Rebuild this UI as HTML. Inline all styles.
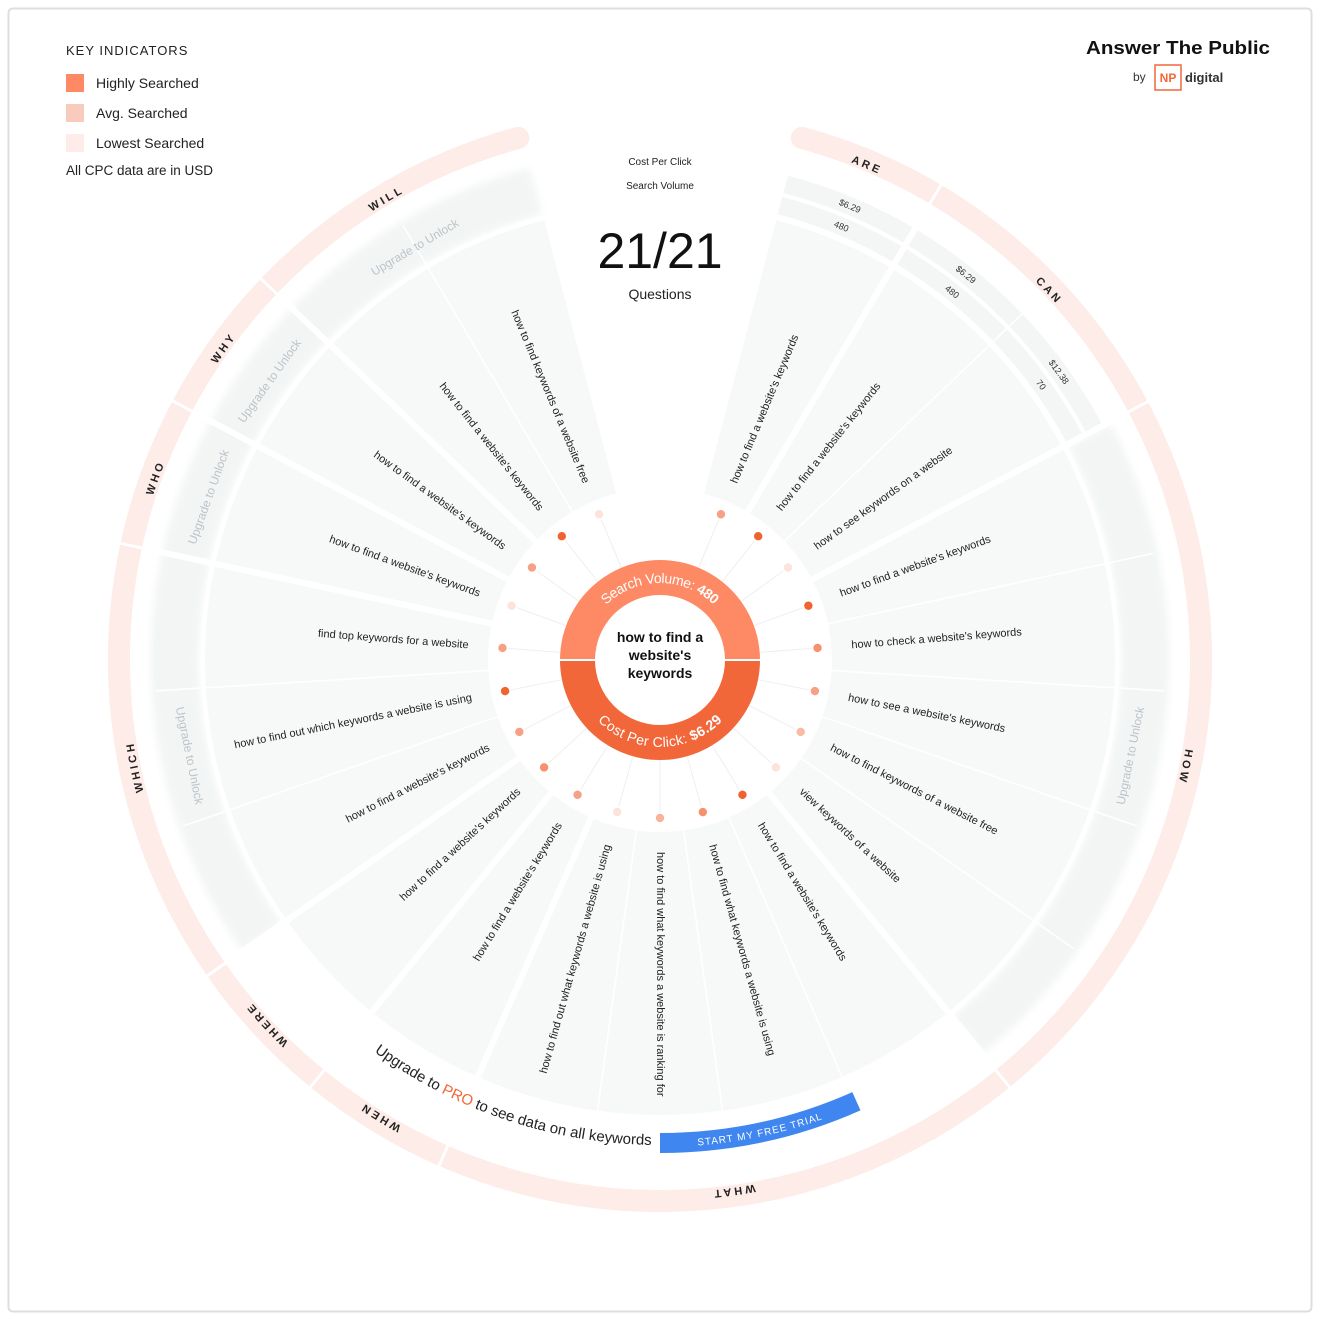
<!DOCTYPE html>
<html><head><meta charset="utf-8"><style>
html,body{margin:0;padding:0;background:#fff;}
svg{display:block;font-family:"Liberation Sans",sans-serif;}
</style></head><body>
<svg width="1320" height="1320" viewBox="0 0 1320 1320" xmlns="http://www.w3.org/2000/svg">
<defs>
<filter id="bl" x="-20%" y="-20%" width="140%" height="140%"><feGaussianBlur stdDeviation="4"/></filter>
<path id="ringp" d="M660,124 A536,536 0 0 1 660,1196 A536,536 0 0 1 660,124"/>
<path id="sv" d="M578,660 A82,82 0 0 1 742,660"/>
<path id="cpc" d="M578,660 A82,82 0 0 0 742,660"/>
<path id="pro" d="M348.2,1031.5 A485,485 0 0 0 651.5,1144.9"/>
<path id="bluet" d="M660,1147 A487,487 0 0 0 858.1,1104.9"/>
</defs>
<rect x="8.5" y="8.5" width="1303" height="1303" rx="4" fill="#fff" stroke="#dedede" stroke-width="2"/>

<!-- outer ring -->
<circle cx="660" cy="660" r="541" fill="none" stroke="#fdece7" stroke-width="22" stroke-linecap="round" stroke-dasharray="3112 4000" transform="rotate(-74.8 660 660)"/>
<g stroke="#fff" stroke-width="3">
<line x1="1189" y1="660" x2="1215" y2="660" transform="rotate(-59.4 660 660)"/>
<line x1="1189" y1="660" x2="1215" y2="660" transform="rotate(-27.9 660 660)"/>
<line x1="1189" y1="660" x2="1215" y2="660" transform="rotate(50.7 660 660)"/>
<line x1="1189" y1="660" x2="1215" y2="660" transform="rotate(113.6 660 660)"/>
<line x1="1189" y1="660" x2="1215" y2="660" transform="rotate(129.3 660 660)"/>
<line x1="1189" y1="660" x2="1215" y2="660" transform="rotate(145.1 660 660)"/>
<line x1="1189" y1="660" x2="1215" y2="660" transform="rotate(192.2 660 660)"/>
<line x1="1189" y1="660" x2="1215" y2="660" transform="rotate(208 660 660)"/>
<line x1="1189" y1="660" x2="1215" y2="660" transform="rotate(223.7 660 660)"/>
</g>
<g font-size="11" font-weight="bold" letter-spacing="3" fill="#222" text-anchor="middle" dominant-baseline="central">
<text><textPath href="#ringp" startOffset="212.4">ARE</textPath></text>
<text><textPath href="#ringp" startOffset="435">CAN</textPath></text>
<text><textPath href="#ringp" startOffset="949.5">HOW</textPath></text>
<text><textPath href="#ringp" startOffset="1610">WHAT</textPath></text>
<text><textPath href="#ringp" startOffset="1978">WHEN</textPath></text>
<text><textPath href="#ringp" startOffset="2125">WHERE</textPath></text>
<text><textPath href="#ringp" startOffset="2418">WHICH</textPath></text>
<text><textPath href="#ringp" startOffset="2711.5">WHO</textPath></text>
<text><textPath href="#ringp" startOffset="2858.4">WHY</textPath></text>
<text><textPath href="#ringp" startOffset="3080.6">WILL</textPath></text>
</g>

<!-- locked bands -->
<g filter="url(#bl)">
<circle cx="660" cy="660" r="485" fill="none" stroke="#f3f5f5" stroke-width="48" stroke-dasharray="662 4000" transform="rotate(-27.6 660 660)"/>
<circle cx="660" cy="660" r="485" fill="none" stroke="#f3f5f5" stroke-width="48" stroke-dasharray="931 4000" transform="rotate(145.2 660 660)"/>
</g>
<!-- CPC / volume tracks -->
<circle cx="660" cy="660" r="470" fill="none" stroke="#f4f6f6" stroke-width="18" stroke-dasharray="390.5 4000" transform="rotate(-75.2 660 660)"/>
<circle cx="660" cy="660" r="492" fill="none" stroke="#f4f6f6" stroke-width="18" stroke-dasharray="408.7 4000" transform="rotate(-75.2 660 660)"/>

<!-- main wedges -->
<circle cx="660" cy="660" r="313.5" fill="none" stroke="#f7f9f8" stroke-width="283" stroke-dasharray="1807.9 4000" transform="rotate(-75.2 660 660)"/>

<!-- dividers -->
<g stroke="#fff" stroke-width="1.5">
<line x1="830" y1="660" x2="1165" y2="660" transform="rotate(-43.7 660 660)"/>
<line x1="830" y1="660" x2="1165" y2="660" transform="rotate(-12.2 660 660)"/>
<line x1="830" y1="660" x2="1165" y2="660" transform="rotate(3.5 660 660)"/>
<line x1="830" y1="660" x2="1165" y2="660" transform="rotate(19.2 660 660)"/>
<line x1="830" y1="660" x2="1165" y2="660" transform="rotate(34.9 660 660)"/>
<line x1="830" y1="660" x2="1165" y2="660" transform="rotate(66.4 660 660)"/>
<line x1="830" y1="660" x2="1165" y2="660" transform="rotate(82.1 660 660)"/>
<line x1="830" y1="660" x2="1165" y2="660" transform="rotate(97.9 660 660)"/>
<line x1="830" y1="660" x2="1165" y2="660" transform="rotate(160.8 660 660)"/>
<line x1="830" y1="660" x2="1165" y2="660" transform="rotate(176.5 660 660)"/>
<line x1="830" y1="660" x2="1165" y2="660" transform="rotate(239.4 660 660)"/>
</g>
<g stroke="#fff" stroke-width="6">
<line x1="830" y1="660" x2="1175" y2="660" transform="rotate(-59.4 660 660)"/>
<line x1="830" y1="660" x2="1175" y2="660" transform="rotate(-27.9 660 660)"/>
<line x1="830" y1="660" x2="1175" y2="660" transform="rotate(50.7 660 660)"/>
<line x1="830" y1="660" x2="1175" y2="660" transform="rotate(113.6 660 660)"/>
<line x1="830" y1="660" x2="1175" y2="660" transform="rotate(129.3 660 660)"/>
<line x1="830" y1="660" x2="1175" y2="660" transform="rotate(145.1 660 660)"/>
<line x1="830" y1="660" x2="1175" y2="660" transform="rotate(192.2 660 660)"/>
<line x1="830" y1="660" x2="1175" y2="660" transform="rotate(208 660 660)"/>
<line x1="830" y1="660" x2="1175" y2="660" transform="rotate(223.7 660 660)"/>
</g>
<circle cx="660" cy="660" r="457.5" fill="none" stroke="#fff" stroke-width="4"/>
<circle cx="660" cy="660" r="481" fill="none" stroke="#fff" stroke-width="3" stroke-dasharray="390 4000" transform="rotate(-75.2 660 660)"/>

<!-- CPC labels -->
<g font-size="9" fill="#333" text-anchor="middle" dominant-baseline="central">
<text x="660" y="168" transform="rotate(22.7 660 660)">$6.29</text>
<text x="660" y="190" transform="rotate(22.7 660 660)">480</text>
<text x="660" y="168" transform="rotate(38.43 660 660)">$6.29</text>
<text x="660" y="190" transform="rotate(38.43 660 660)">480</text>
<text x="660" y="168" transform="rotate(54.16 660 660)">$12.38</text>
<text x="660" y="190" transform="rotate(54.16 660 660)">70</text>
</g>

<!-- Upgrade to Unlock -->
<g font-size="12" fill="#bcc4c9" text-anchor="middle" dominant-baseline="central">
<text x="660" y="1140" transform="rotate(-78.5 660 660)">Upgrade to Unlock</text>
<text x="660" y="1140" transform="rotate(78.5 660 660)">Upgrade to Unlock</text>
<text x="660" y="180" transform="rotate(289.85 660 660)">Upgrade to Unlock</text>
<text x="660" y="180" transform="rotate(305.55 660 660)">Upgrade to Unlock</text>
<text x="660" y="180" transform="rotate(329.3 660 660)">Upgrade to Unlock</text>
</g>

<!-- spokes & dots -->
<g stroke="#efefef" stroke-width="1">
<line x1="760" y1="660" x2="812" y2="660" transform="rotate(-67.3 660 660)"/>
<line x1="760" y1="660" x2="812" y2="660" transform="rotate(-51.57 660 660)"/>
<line x1="760" y1="660" x2="812" y2="660" transform="rotate(-35.84 660 660)"/>
<line x1="760" y1="660" x2="812" y2="660" transform="rotate(-20.11 660 660)"/>
<line x1="760" y1="660" x2="812" y2="660" transform="rotate(-4.38 660 660)"/>
<line x1="760" y1="660" x2="812" y2="660" transform="rotate(11.35 660 660)"/>
<line x1="760" y1="660" x2="812" y2="660" transform="rotate(27.08 660 660)"/>
<line x1="760" y1="660" x2="812" y2="660" transform="rotate(42.81 660 660)"/>
<line x1="760" y1="660" x2="812" y2="660" transform="rotate(58.54 660 660)"/>
<line x1="760" y1="660" x2="812" y2="660" transform="rotate(74.27 660 660)"/>
<line x1="760" y1="660" x2="812" y2="660" transform="rotate(90 660 660)"/>
<line x1="760" y1="660" x2="812" y2="660" transform="rotate(105.73 660 660)"/>
<line x1="760" y1="660" x2="812" y2="660" transform="rotate(121.46 660 660)"/>
<line x1="760" y1="660" x2="812" y2="660" transform="rotate(137.19 660 660)"/>
<line x1="760" y1="660" x2="812" y2="660" transform="rotate(152.92 660 660)"/>
<line x1="760" y1="660" x2="812" y2="660" transform="rotate(168.65 660 660)"/>
<line x1="760" y1="660" x2="812" y2="660" transform="rotate(184.38 660 660)"/>
<line x1="760" y1="660" x2="812" y2="660" transform="rotate(200.11 660 660)"/>
<line x1="760" y1="660" x2="812" y2="660" transform="rotate(215.84 660 660)"/>
<line x1="760" y1="660" x2="812" y2="660" transform="rotate(231.57 660 660)"/>
<line x1="760" y1="660" x2="812" y2="660" transform="rotate(247.3 660 660)"/>
</g>
<g>
<circle cx="818" cy="660" r="4.2" fill="#f6a185" transform="rotate(-67.3 660 660)"/>
<circle cx="818" cy="660" r="4.2" fill="#f0632f" transform="rotate(-51.57 660 660)"/>
<circle cx="818" cy="660" r="4.2" fill="#fde3d9" transform="rotate(-35.84 660 660)"/>
<circle cx="818" cy="660" r="4.2" fill="#f0632f" transform="rotate(-20.11 660 660)"/>
<circle cx="818" cy="660" r="4.2" fill="#f7906e" transform="rotate(-4.38 660 660)"/>
<circle cx="818" cy="660" r="4.2" fill="#f6a185" transform="rotate(11.35 660 660)"/>
<circle cx="818" cy="660" r="4.2" fill="#f9bba6" transform="rotate(27.08 660 660)"/>
<circle cx="818" cy="660" r="4.2" fill="#fde3d9" transform="rotate(42.81 660 660)"/>
<circle cx="818" cy="660" r="4.2" fill="#f0632f" transform="rotate(58.54 660 660)"/>
<circle cx="818" cy="660" r="4.2" fill="#f7906e" transform="rotate(74.27 660 660)"/>
<circle cx="818" cy="660" r="4.2" fill="#f9b39b" transform="rotate(90 660 660)"/>
<circle cx="818" cy="660" r="4.2" fill="#fde3d9" transform="rotate(105.73 660 660)"/>
<circle cx="818" cy="660" r="4.2" fill="#f6a185" transform="rotate(121.46 660 660)"/>
<circle cx="818" cy="660" r="4.2" fill="#f7906e" transform="rotate(137.19 660 660)"/>
<circle cx="818" cy="660" r="4.2" fill="#f6a185" transform="rotate(152.92 660 660)"/>
<circle cx="818" cy="660" r="4.2" fill="#f0632f" transform="rotate(168.65 660 660)"/>
<circle cx="818" cy="660" r="4.2" fill="#f6a185" transform="rotate(184.38 660 660)"/>
<circle cx="818" cy="660" r="4.2" fill="#fde3d9" transform="rotate(200.11 660 660)"/>
<circle cx="818" cy="660" r="4.2" fill="#f6a185" transform="rotate(215.84 660 660)"/>
<circle cx="818" cy="660" r="4.2" fill="#f0632f" transform="rotate(231.57 660 660)"/>
<circle cx="818" cy="660" r="4.2" fill="#fde3d9" transform="rotate(247.3 660 660)"/>
</g>

<!-- question labels -->
<g font-size="11" fill="#222" dominant-baseline="central">
<text x="852" y="660" transform="rotate(-67.3 660 660)">how to find a website's keywords</text>
<text x="852" y="660" transform="rotate(-51.57 660 660)">how to find a website's keywords</text>
<text x="852" y="660" transform="rotate(-35.84 660 660)">how to see keywords on a website</text>
<text x="852" y="660" transform="rotate(-20.11 660 660)">how to find a website's keywords</text>
<text x="852" y="660" transform="rotate(-4.38 660 660)">how to check a website's keywords</text>
<text x="852" y="660" transform="rotate(11.35 660 660)">how to see a website's keywords</text>
<text x="852" y="660" transform="rotate(27.08 660 660)">how to find keywords of a website free</text>
<text x="852" y="660" transform="rotate(42.81 660 660)">view keywords of a website</text>
<text x="852" y="660" transform="rotate(58.54 660 660)">how to find a website's keywords</text>
<text x="852" y="660" transform="rotate(74.27 660 660)">how to find what keywords a website is using</text>
<text x="852" y="660" transform="rotate(90 660 660)">how to find what keywords a website is ranking for</text>
</g>
<g font-size="11" fill="#222" dominant-baseline="central" text-anchor="end">
<text x="468" y="660" transform="rotate(-74.27 660 660)">how to find out what keywords a website is using</text>
<text x="468" y="660" transform="rotate(-58.54 660 660)">how to find a website's keywords</text>
<text x="468" y="660" transform="rotate(-42.81 660 660)">how to find a website's keywords</text>
<text x="468" y="660" transform="rotate(-27.08 660 660)">how to find a website's keywords</text>
<text x="468" y="660" transform="rotate(-11.35 660 660)">how to find out which keywords a website is using</text>
<text x="468" y="660" transform="rotate(4.38 660 660)">find top keywords for a website</text>
<text x="468" y="660" transform="rotate(20.11 660 660)">how to find a website's keywords</text>
<text x="468" y="660" transform="rotate(35.84 660 660)">how to find a website's keywords</text>
<text x="468" y="660" transform="rotate(51.57 660 660)">how to find a website's keywords</text>
<text x="468" y="660" transform="rotate(67.3 660 660)">how to find keywords of a website free</text>
</g>

<!-- donut -->
<path d="M560,660 A100,100 0 0 1 760,660 L725,660 A65,65 0 0 0 595,660 Z" fill="#fd8a64"/>
<path d="M560,660 A100,100 0 0 0 760,660 L725,660 A65,65 0 0 1 595,660 Z" fill="#f2673a"/>
<line x1="558" y1="660" x2="597" y2="660" stroke="#fff" stroke-width="2"/>
<line x1="723" y1="660" x2="762" y2="660" stroke="#fff" stroke-width="2"/>
<g font-size="14" fill="#fff" text-anchor="middle" dominant-baseline="central">
<text><textPath href="#sv" startOffset="50%">Search Volume: <tspan font-weight="bold">480</tspan></textPath></text>
<text><textPath href="#cpc" startOffset="50%">Cost Per Click: <tspan font-weight="bold">$6.29</tspan></textPath></text>
</g>
<g font-size="14" fill="#111" text-anchor="middle" font-weight="bold">
<text x="660" y="642">how to find a</text>
<text x="660" y="660">website's</text>
<text x="660" y="678">keywords</text>
</g>

<!-- header center -->
<g text-anchor="middle" fill="#222">
<text x="660" y="165" font-size="10">Cost Per Click</text>
<text x="660" y="189" font-size="10">Search Volume</text>
<text x="660" y="268" font-size="50" fill="#111">21/21</text>
<text x="660" y="299" font-size="14">Questions</text>
</g>

<!-- upgrade PRO + button -->
<text font-size="15" fill="#222" text-anchor="end"><textPath href="#pro" startOffset="100%">Upgrade to <tspan fill="#f2673a">PRO</tspan> to see data on all keywords</textPath></text>
<path d="M660,1143 A483,483 0 0 0 856.4,1101.2" fill="none" stroke="#3f86f0" stroke-width="20"/>
<text font-size="10" fill="#fff" letter-spacing="1" text-anchor="middle"><textPath href="#bluet" startOffset="50%">START MY FREE TRIAL</textPath></text>

<!-- legend -->
<g fill="#222">
<text x="66" y="55" font-size="13" letter-spacing="1">KEY INDICATORS</text>
<rect x="66" y="74" width="18" height="18" fill="#fd8a64"/>
<text x="96" y="88" font-size="14">Highly Searched</text>
<rect x="66" y="104" width="18" height="18" fill="#f9cbbd"/>
<text x="96" y="118" font-size="14">Avg. Searched</text>
<rect x="66" y="134" width="18" height="18" fill="#fdecea"/>
<text x="96" y="148" font-size="14">Lowest Searched</text>
<text x="66" y="175" font-size="13.5">All CPC data are in USD</text>
</g>

<!-- logo -->
<text x="1086" y="54" font-size="18" font-weight="bold" fill="#111" textLength="184" lengthAdjust="spacingAndGlyphs">Answer The Public</text>
<text x="1133" y="81" font-size="12" fill="#333">by</text>
<rect x="1155" y="65" width="26" height="25" fill="none" stroke="#f2673a" stroke-width="1.5"/>
<text x="1168" y="82" font-size="12" fill="#f2673a" text-anchor="middle" font-weight="bold">NP</text>
<text x="1185" y="82" font-size="13" fill="#333" font-weight="bold">digital</text>
</svg>
</body></html>
